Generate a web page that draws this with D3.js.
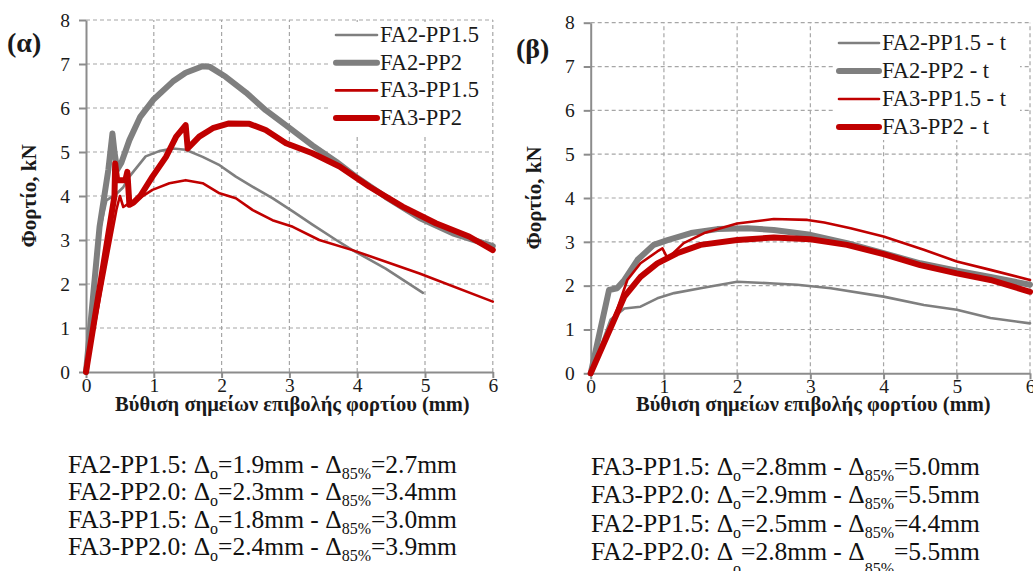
<!DOCTYPE html>
<html>
<head>
<meta charset="utf-8">
<script src="https://cdn.jsdelivr.net/npm/d3@7"></script>
<style>
  body { margin: 0; background: #fff; }
  svg text { font-family: "Liberation Serif", "Times New Roman", serif; }
</style>
</head>
<body>
<svg id="chart" width="1033" height="571"></svg>
<script>
'use strict'

// ---- data ----
const xTicks = [0, 1, 2, 3, 4, 5, 6];
const yTicks = [0, 1, 2, 3, 4, 5, 6, 7, 8];

// (α) panel, [displacement mm, load kN]
const aFA2PP15 = [[0,0],[0.2,3.2],[0.3,3.9],[0.45,4.05],[0.55,4.2],[0.64,4.44],[0.88,4.9],[1.08,5.02],[1.28,5.08],[1.47,5.05],[1.72,4.89],[1.97,4.7],[2.21,4.44],[2.46,4.21],[2.75,3.95],[3.05,3.65],[3.34,3.35],[3.69,3.0],[3.93,2.77],[4.42,2.35],[4.97,1.8]];
const aFA2PP2 = [[0,0],[0.2,3.3],[0.33,4.6],[0.39,5.42],[0.42,5.0],[0.46,4.6],[0.52,4.75],[0.64,5.27],[0.8,5.8],[1.0,6.2],[1.28,6.6],[1.47,6.8],[1.72,6.95],[1.82,6.94],[2.06,6.71],[2.36,6.35],[2.65,5.95],[3.0,5.55],[3.34,5.15],[3.69,4.78],[3.98,4.44],[4.42,3.98],[4.92,3.5],[5.41,3.15],[6.0,2.86]];
const aFA3PP15 = [[0,0],[0.45,3.7],[0.5,4.0],[0.55,3.75],[0.65,3.85],[0.74,3.9],[0.98,4.14],[1.23,4.29],[1.47,4.36],[1.72,4.29],[1.97,4.06],[2.21,3.95],[2.46,3.68],[2.75,3.45],[3.05,3.3],[3.44,3.0],[3.93,2.77],[4.92,2.24],[6.0,1.6]];
const aFA3PP2 = [[0,0],[0.42,4.0],[0.43,4.74],[0.46,4.36],[0.58,4.36],[0.61,4.55],[0.64,3.8],[0.7,3.85],[0.8,4.0],[0.98,4.44],[1.18,4.89],[1.33,5.35],[1.47,5.61],[1.5,5.08],[1.67,5.35],[1.87,5.54],[2.11,5.65],[2.41,5.64],[2.65,5.5],[2.95,5.2],[3.34,4.97],[3.74,4.67],[4.18,4.21],[4.67,3.76],[5.16,3.38],[5.65,3.08],[6.0,2.77]];

// (β) panel
const bFA2PP15 = [[0,0],[0.27,1.22],[0.46,1.48],[0.68,1.52],[0.91,1.71],[1.14,1.83],[1.5,1.94],[2.0,2.09],[2.5,2.05],[2.82,2.02],[3.28,1.94],[4.0,1.75],[4.55,1.56],[5.0,1.45],[5.46,1.26],[6.0,1.14]];
const bFA2PP2 = [[0,0],[0.25,1.9],[0.36,1.94],[0.46,2.13],[0.64,2.59],[0.86,2.93],[1.05,3.04],[1.37,3.2],[1.73,3.29],[2.14,3.31],[2.5,3.27],[3.0,3.16],[3.5,2.97],[4.0,2.74],[4.5,2.51],[5.0,2.34],[5.46,2.2],[6.0,2.02]];
const bFA3PP15 = [[0,0],[0.36,1.45],[0.5,2.13],[0.68,2.51],[0.91,2.78],[0.98,2.85],[1.05,2.62],[1.27,2.97],[1.55,3.2],[2.0,3.42],[2.5,3.52],[2.96,3.5],[3.19,3.44],[3.55,3.31],[4.0,3.12],[4.55,2.82],[5.0,2.55],[5.46,2.36],[6.0,2.13]];
const bFA3PP2 = [[0,0],[0.46,1.75],[0.68,2.2],[0.91,2.51],[1.18,2.74],[1.5,2.93],[2.0,3.04],[2.5,3.1],[3.0,3.06],[3.5,2.93],[4.0,2.72],[4.5,2.47],[5.0,2.28],[5.46,2.13],[6.0,1.86]];

const legendA = ['FA2-PP1.5', 'FA2-PP2', 'FA3-PP1.5', 'FA3-PP2'];
const legendB = ['FA2-PP1.5 - t', 'FA2-PP2 - t', 'FA3-PP1.5 - t', 'FA3-PP2 - t'];

// Δo and Δ85% notes under each panel
const notesA = [['FA2-PP1.5', '1.9', '2.7'], ['FA2-PP2.0', '2.3', '3.4'], ['FA3-PP1.5', '1.8', '3.0'], ['FA3-PP2.0', '2.4', '3.9']];
const notesB = [['FA3-PP1.5', '2.8', '5.0'], ['FA3-PP2.0', '2.9', '5.5'], ['FA2-PP1.5', '2.5', '4.4'], ['FA2-PP2.0', '2.8', '5.5']];

const xTitle = 'Βύθιση σημείων επιβολής φορτίου (mm)';
const yTitle = 'Φορτίο, kN';

// ---- drawing ----
const GRAY = '#7f7f7f', RED = '#c00000', AXIS = '#8c8c8c', FONT = '"Liberation Serif", "Times New Roman", serif';
const styles = [
    { color: GRAY, width: 2.6 },
    { color: GRAY, width: 6 },
    { color: RED, width: 2.6 },
    { color: RED, width: 6 }
];

let svg = d3.select('#chart');
svg.append('rect').attr('width', 1033).attr('height', 571).attr('fill', '#fff');

function drawPanel(p) {
    let x = d3.scaleLinear().domain([0, 6]).range([p.left, p.right]),
        y = d3.scaleLinear().domain([0, 8]).range([p.bottom, p.top]);
    let g = svg.append('g');

    // dashed grid
    g.append('g').selectAll('line').data(yTicks.slice(1)).join('line')
        .attr('x1', x(0)).attr('x2', x(6))
        .attr('y1', d => y(d)).attr('y2', d => y(d))
        .attr('stroke', '#a6a6a6').attr('stroke-width', 1.2).attr('stroke-dasharray', '4,3');
    g.append('g').selectAll('line').data(xTicks.slice(1)).join('line')
        .attr('x1', d => x(d)).attr('x2', d => x(d))
        .attr('y1', y(0)).attr('y2', y(8))
        .attr('stroke', '#a6a6a6').attr('stroke-width', 1.2).attr('stroke-dasharray', '4,3');

    // axes
    let ax = g.append('g')
        .attr('transform', 'translate(0,' + y(0) + ')')
        .call(d3.axisBottom(x).tickValues(xTicks).tickFormat(d3.format('d'))
            .tickSizeInner(6).tickSizeOuter(0).tickPadding(0));
    let ay = g.append('g')
        .attr('transform', 'translate(' + x(0) + ',0)')
        .call(d3.axisLeft(y).tickValues(yTicks).tickFormat(d3.format('d'))
            .tickSizeInner(7).tickSizeOuter(0).tickPadding(9));
    [ax, ay].forEach(a => {
        a.attr('font-family', FONT).attr('font-size', 19.5).attr('color', AXIS);
        a.select('.domain').attr('stroke-width', 2);
        a.selectAll('.tick line').attr('stroke-width', 2);
        a.selectAll('.tick text').attr('fill', '#1a1a1a');
    });

    // curves
    let line = d3.line()
        .x(d => x(d[0]))
        .y(d => y(d[1]));
    p.series.forEach((s, i) => {
        g.append('path')
            .datum(s)
            .attr('d', line)
            .attr('fill', 'none')
            .attr('stroke', styles[i].color)
            .attr('stroke-width', styles[i].width)
            .attr('stroke-linejoin', 'round')
            .attr('stroke-linecap', 'round');
    });

    // legend
    let lg = g.append('g');
    lg.append('rect')
        .attr('x', p.legend.x).attr('y', p.legend.y)
        .attr('width', p.legend.w).attr('height', p.legend.h)
        .attr('fill', '#fff');
    p.labels.forEach((t, i) => {
        let ly = p.legend.rowY + i * p.legend.step;
        lg.append('line')
            .attr('x1', p.legend.lx).attr('x2', p.legend.lx + p.legend.len)
            .attr('y1', ly).attr('y2', ly)
            .attr('stroke', styles[i].color)
            .attr('stroke-width', styles[i].width)
            .attr('stroke-linecap', 'round');
        lg.append('text')
            .attr('x', p.legend.lx + p.legend.len + 3).attr('y', ly + 7)
            .attr('font-size', 22.5).attr('fill', '#1a1a1a')
            .text(t);
    });

    // titles
    g.append('text')
        .attr('x', (x(0) + x(6)) / 2 + 3).attr('y', p.xTitleY)
        .attr('text-anchor', 'middle')
        .attr('font-size', 20.5).attr('font-weight', 'bold').attr('fill', '#1a1a1a')
        .text(xTitle);
    g.append('text')
        .attr('transform', 'translate(' + p.yTitleX + ',' + y(4.0) + ') rotate(-90)')
        .attr('text-anchor', 'middle')
        .attr('font-size', 21).attr('font-weight', 'bold').attr('fill', '#1a1a1a')
        .text(yTitle);
    g.append('text')
        .attr('x', p.tag.x).attr('y', p.tag.y)
        .attr('font-size', 28).attr('font-weight', 'bold').attr('fill', '#1a1a1a')
        .text(p.tag.text);

    // notes
    p.notes.forEach((n, i) => {
        let drop = i === p.notes.length - 1 ? p.lastDrop : 6;
        let t = g.append('text')
            .attr('x', p.noteX).attr('y', p.noteY + i * p.noteStep)
            .attr('font-size', 25.5).attr('fill', '#111');
        t.append('tspan').text(n[0] + ': Δ');
        t.append('tspan').attr('dy', drop).attr('font-size', 16).text('o');
        t.append('tspan').attr('dy', -drop).text('=' + n[1] + 'mm - Δ');
        t.append('tspan').attr('dy', drop).attr('font-size', 16).text('85%');
        t.append('tspan').attr('dy', -drop).text('=' + n[2] + 'mm');
    });
}

drawPanel({
    left: 86, right: 492.8, top: 20, bottom: 372,
    series: [aFA2PP15, aFA2PP2, aFA3PP15, aFA3PP2],
    labels: legendA,
    legend: { x: 331, y: 22, w: 158, h: 114, lx: 336, len: 41, rowY: 35, step: 27.7 },
    xTitleY: 411, yTitleX: 36,
    tag: { x: 7, y: 52, text: '(α)' },
    notes: notesA, noteX: 68, noteY: 473, noteStep: 27.3, lastDrop: 6
});

drawPanel({
    left: 590.7, right: 1030, top: 22.7, bottom: 373.3,
    series: [bFA2PP15, bFA2PP2, bFA3PP15, bFA3PP2],
    labels: legendB,
    legend: { x: 834, y: 25, w: 186, h: 115, lx: 839, len: 40, rowY: 43, step: 28 },
    xTitleY: 411, yTitleX: 541,
    tag: { x: 516, y: 58, text: '(β)' },
    notes: notesB, noteX: 591, noteY: 475, noteStep: 28.3, lastDrop: 14
});
</script>
</body>
</html>
